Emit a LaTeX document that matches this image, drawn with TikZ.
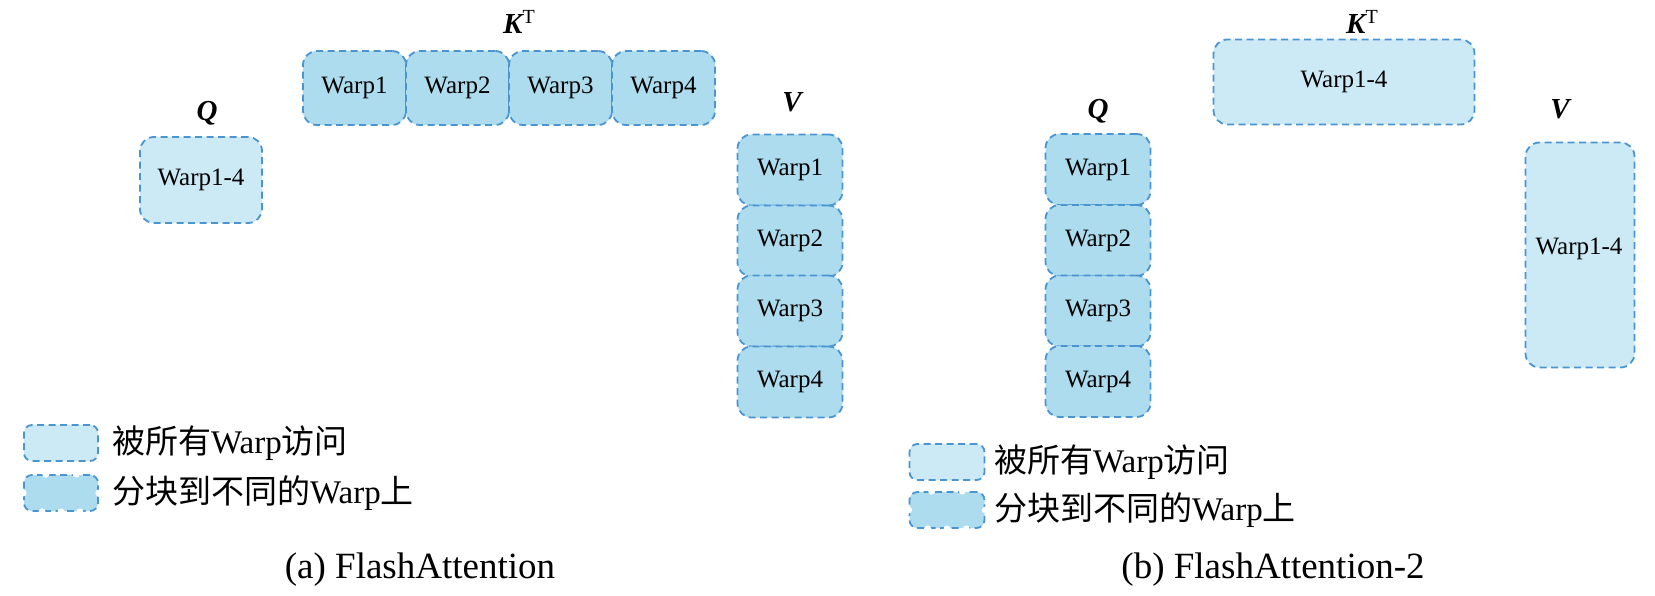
\documentclass[tikz,border=0pt]{standalone}
\usepackage{fontspec}
\setmainfont{Liberation Serif}
\newfontfamily\cjk{Noto Sans CJK SC}
\usetikzlibrary{calc}
\definecolor{bordc}{RGB}{74,148,210}
\definecolor{lightc}{RGB}{204,234,246}
\definecolor{darkc}{RGB}{172,220,238}
\tikzset{
  wbox/.style={draw=bordc, line width=1.8pt, dash pattern=on 7pt off 4.5pt,
    rounded corners=14pt, inner sep=0pt, font=\fontsize{25}{29}\selectfont},
  shared/.style={wbox, fill=lightc},
  split/.style={wbox, fill=darkc},
  lbl/.style={font=\fontsize{29}{32}\selectfont\bfseries\itshape, inner sep=0pt},
  legtxt/.style={anchor=west, inner sep=0pt, font=\fontsize{33}{37}\selectfont},
  captxt/.style={inner sep=0pt, font=\fontsize{37}{40}\selectfont},
  notch/.style={fill=white, draw=none}
}
\newcommand{\KT}{\textit{K}\raisebox{0.75ex}{\fontsize{20}{22}\mdseries\upshape T}}
\begin{document}
\begin{tikzpicture}[x=1pt, y=-1pt]
\useasboundingbox (0,0) rectangle (1655,596);
% ---------------- (a) FlashAttention ----------------
\node[lbl] (qa) at (207,113) {Q};
\node[shared, minimum width=122pt, minimum height=86pt] (qa1) at (201,180) {Warp1-4};
\node[lbl] (ka) at (519,22) {\KT};
\node[split, minimum width=103pt, minimum height=74pt] (ka1) at (354.5,88) {Warp1};
\node[split, minimum width=103pt, minimum height=74pt] (ka2) at (457.5,88) {Warp2};
\node[split, minimum width=103pt, minimum height=74pt] (ka3) at (560.5,88) {Warp3};
\node[split, minimum width=103pt, minimum height=74pt] (ka4) at (663.5,88) {Warp4};
\node[lbl] (va) at (792,102) {V};
\node[split, minimum width=105pt, minimum height=71pt] (va1) at (790,170) {Warp1};
\node[split, minimum width=105pt, minimum height=71pt] (va2) at (790,241) {Warp2};
\node[split, minimum width=105pt, minimum height=71pt] (va3) at (790,311) {Warp3};
\node[split, minimum width=105pt, minimum height=71pt] (va4) at (790,382) {Warp4};
% legend (a)
\node[shared, minimum width=74pt, minimum height=36pt, rounded corners=8pt] (lga1) at (61,443) {};
\node[legtxt] (lta1) at (112,443) {{\cjk 被所有}Warp{\cjk 访问}};
\node[split, minimum width=74pt, minimum height=36pt, rounded corners=8pt] (lga2) at (61,493) {};
\node[legtxt] (lta2) at (112,493) {{\cjk 分块到不同的}Warp{\cjk 上}};
\foreach \f in {0.3,0.7}{
  \fill[notch] ($(lga2.north west)!\f!(lga2.north east)$) circle (3.5pt);}
\foreach \f in {0.25,0.5,0.75}{
  \fill[notch] ($(lga2.south west)!\f!(lga2.south east)$) circle (3.5pt);}
\fill[notch] (lga2.west) circle (3.5pt);
\fill[notch] (lga2.east) circle (3.5pt);
\node[captxt] (capa) at (420,570) {(a) FlashAttention};
% ---------------- (b) FlashAttention-2 ----------------
\node[lbl] (kb) at (1362,22) {\KT};
\node[shared, minimum width=261pt, minimum height=85pt] (kb1) at (1344,82) {Warp1-4};
\node[lbl] (qb) at (1098,111) {Q};
\node[split, minimum width=105pt, minimum height=71pt] (qb1) at (1098,169.5) {Warp1};
\node[split, minimum width=105pt, minimum height=71pt] (qb2) at (1098,240.5) {Warp2};
\node[split, minimum width=105pt, minimum height=71pt] (qb3) at (1098,311) {Warp3};
\node[split, minimum width=105pt, minimum height=71pt] (qb4) at (1098,381.5) {Warp4};
\node[lbl] (vb) at (1560,109) {V};
\node[shared, minimum width=109pt, minimum height=225pt] (vb1) at (1580,255) {};
\node[font=\fontsize{25}{29}\selectfont, inner sep=0pt] (vbt) at (1579,249) {Warp1-4};
% legend (b)
\node[shared, minimum width=75pt, minimum height=36pt, rounded corners=8pt] (lgb1) at (947,462) {};
\node[legtxt] (ltb1) at (994,462) {{\cjk 被所有}Warp{\cjk 访问}};
\node[split, minimum width=75pt, minimum height=36pt, rounded corners=8pt] (lgb2) at (947,510) {};
\node[legtxt] (ltb2) at (994,510) {{\cjk 分块到不同的}Warp{\cjk 上}};
\foreach \f in {0.3,0.7}{
  \fill[notch] ($(lgb2.north west)!\f!(lgb2.north east)$) circle (3.5pt);}
\foreach \f in {0.25,0.5,0.75}{
  \fill[notch] ($(lgb2.south west)!\f!(lgb2.south east)$) circle (3.5pt);}
\fill[notch] (lgb2.west) circle (3.5pt);
\fill[notch] (lgb2.east) circle (3.5pt);
\node[captxt] (capb) at (1273,570) {(b) FlashAttention-2};
\end{tikzpicture}
\end{document}
